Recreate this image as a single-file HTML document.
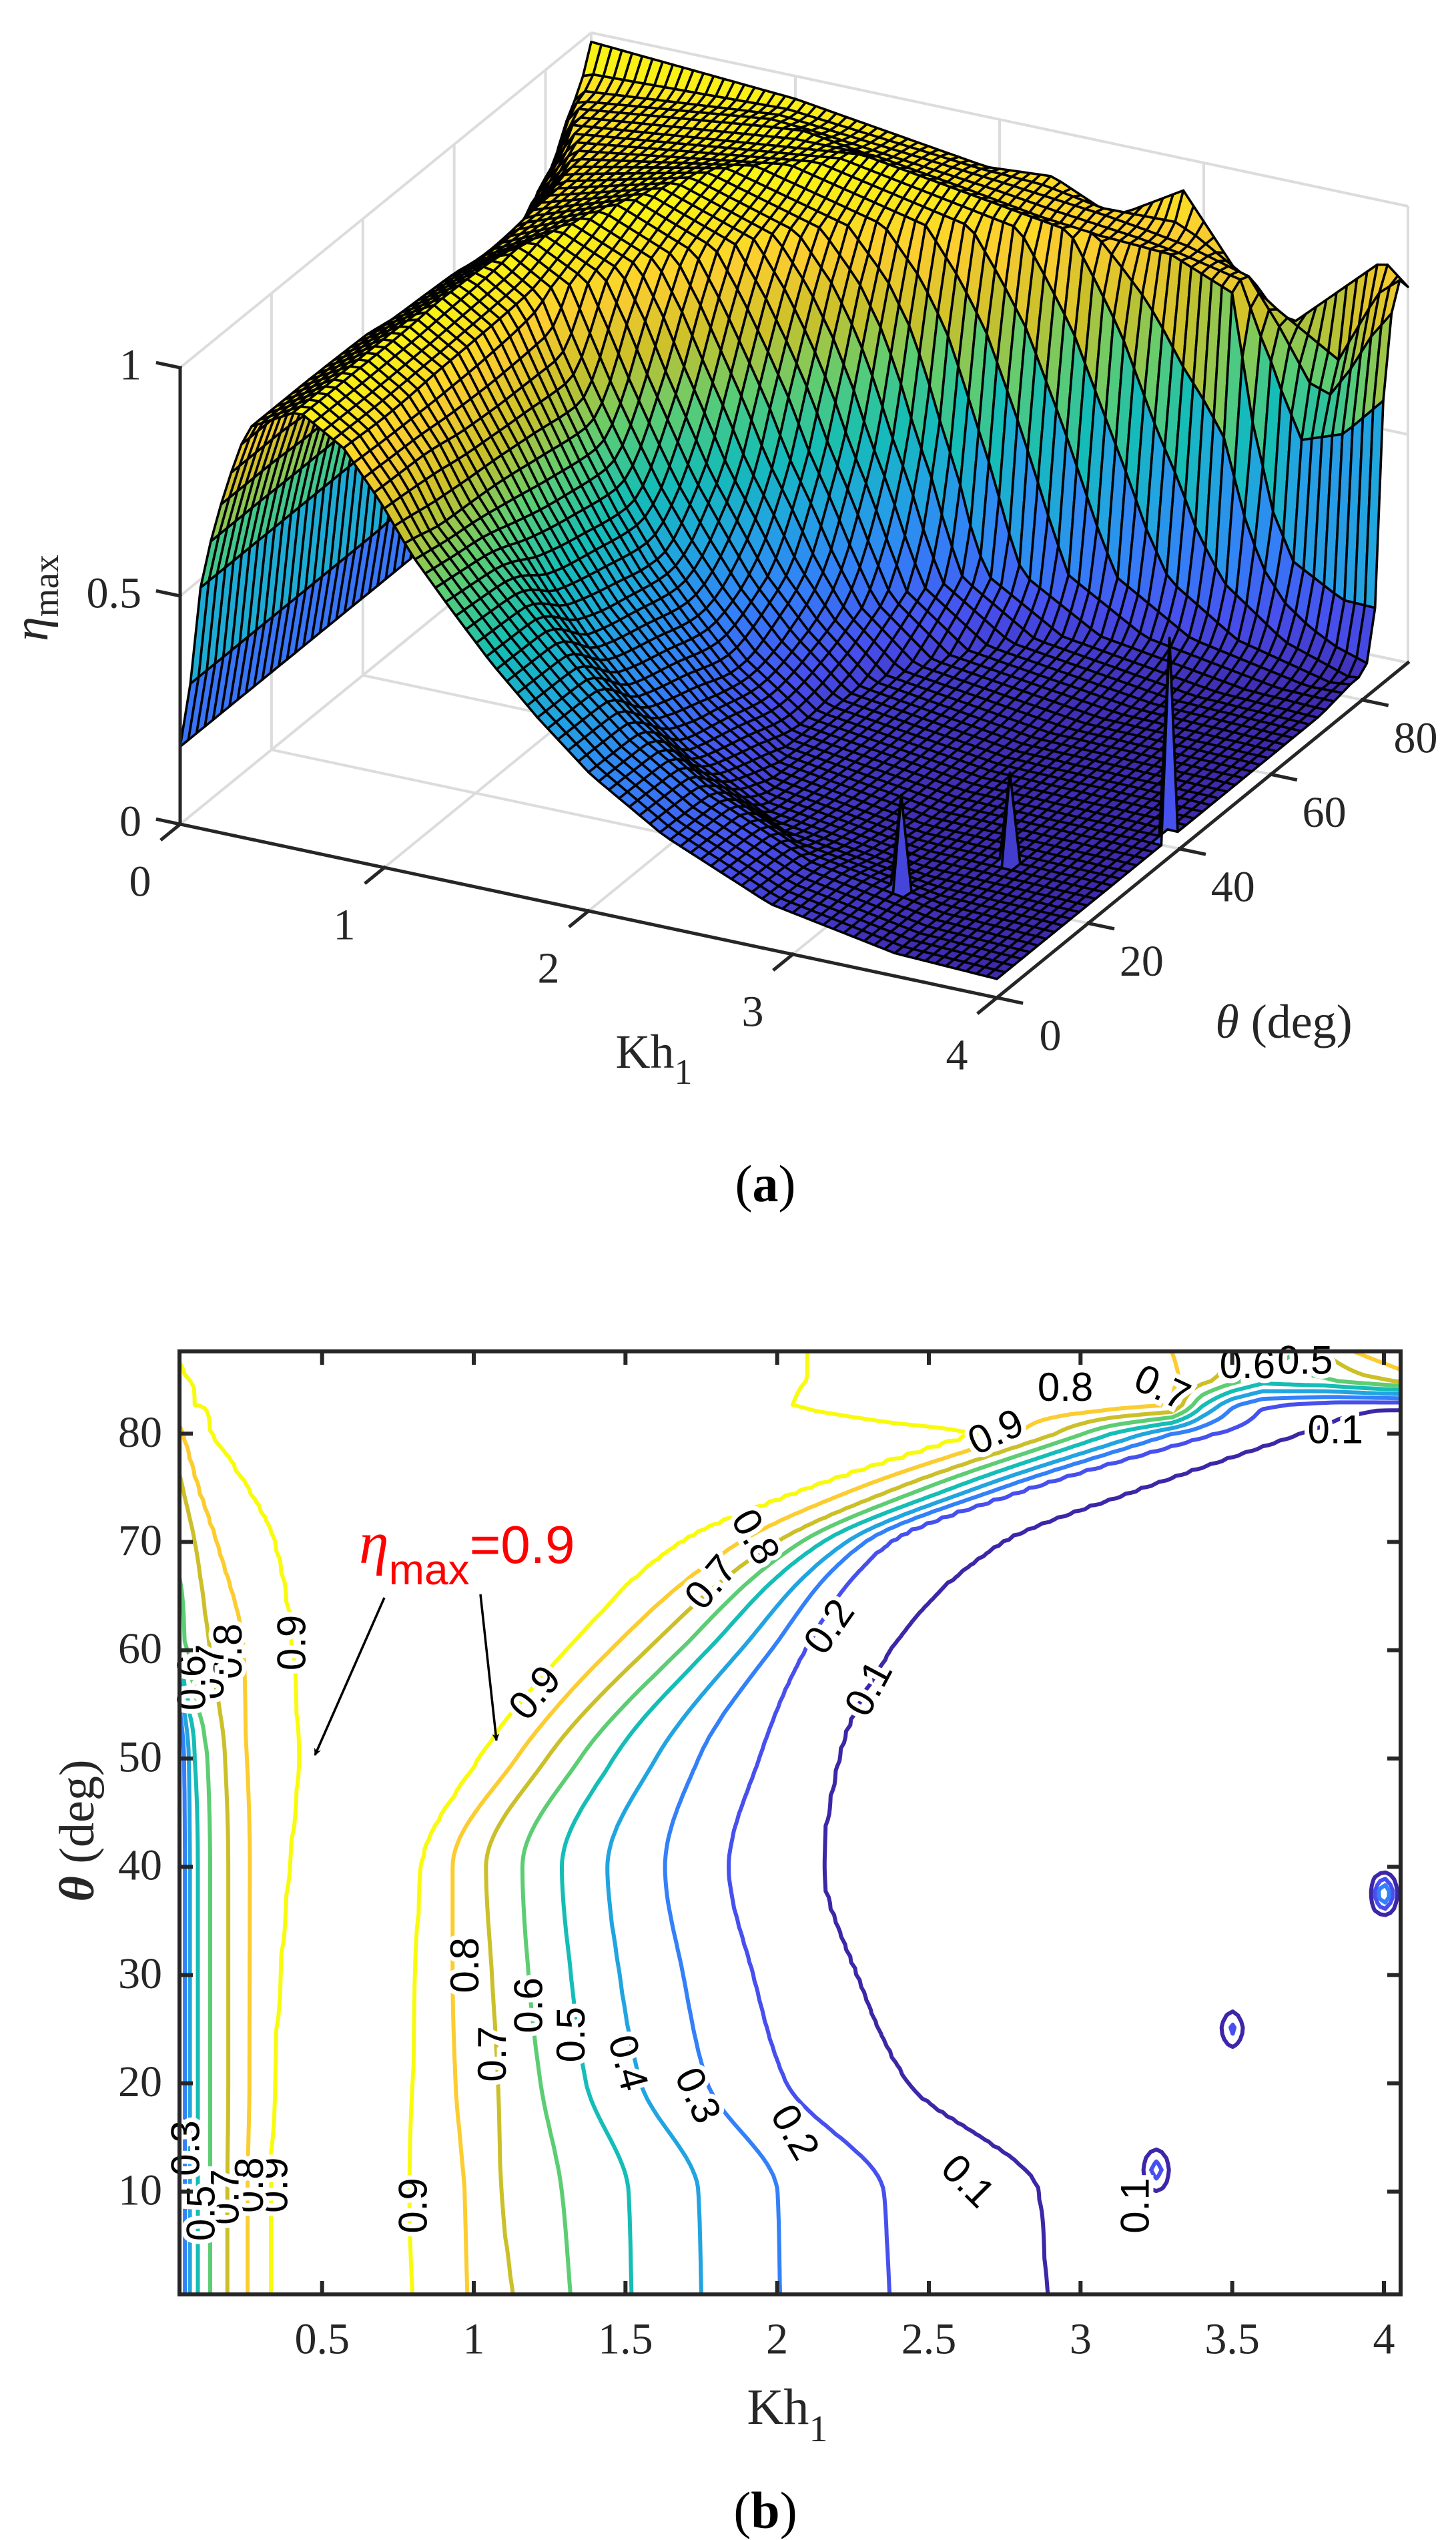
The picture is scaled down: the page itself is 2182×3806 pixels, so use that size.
<!DOCTYPE html>
<html><head><meta charset="utf-8"><style>
html,body{margin:0;padding:0;background:#fff;}
svg{display:block;}
</style></head>
<body>
<svg id="fig" width="2182" height="3806" xmlns="http://www.w3.org/2000/svg">
<rect x="0" y="0" width="2182" height="3806" fill="#fff"/>
<defs><clipPath id="clipB"><rect x="269" y="2025" width="1830" height="1413"/></clipPath>
<marker id="arrowhead" viewBox="0 0 20 20" refX="18" refY="10" markerWidth="11" markerHeight="11" orient="auto" markerUnits="userSpaceOnUse"><path d="M0,0 L20,10 L0,20 L6,10 Z" fill="#000"/></marker></defs>
<g id="gridA"></g>
<g id="surfA"></g>
<g id="axesA"></g>
<g id="contB" clip-path="url(#clipB)"></g>
<g id="labB"></g>
<g id="axesB"></g>

<text x="71" y="896" transform="rotate(-90 71 896)" text-anchor="middle" font-family="Liberation Serif, serif" font-size="74" fill="#262626"><tspan font-style="italic">η</tspan><tspan font-size="54" dy="16">max</tspan></text>
<text x="980" y="1600" text-anchor="middle" font-family="Liberation Serif, serif" font-size="72" fill="#262626">Kh<tspan font-size="54" dy="24">1</tspan></text>
<text x="1924" y="1555" text-anchor="middle" font-family="Liberation Serif, serif" font-size="72" fill="#262626"><tspan font-style="italic">θ</tspan> (deg)</text>
<text x="1147" y="1800" text-anchor="middle" font-family="Liberation Serif, serif" font-size="78" fill="#000">(<tspan font-weight="bold">a</tspan>)</text>

<text x="140" y="2743" transform="rotate(-90 140 2743)" text-anchor="middle" font-family="Liberation Serif, serif" font-size="74" fill="#262626"><tspan font-style="italic" font-weight="bold">θ</tspan> (deg)</text>
<text x="1180" y="3632" text-anchor="middle" font-family="Liberation Serif, serif" font-size="76" fill="#262626">Kh<tspan font-size="56" dy="26">1</tspan></text>
<text x="1147" y="3788" text-anchor="middle" font-family="Liberation Serif, serif" font-size="78" fill="#000">(<tspan font-weight="bold">b</tspan>)</text>

<text x="538" y="2342" fill="#ff0000" font-family="Liberation Sans, sans-serif"><tspan font-family="Liberation Serif, serif" font-style="italic" font-size="90">η</tspan><tspan font-size="64" dy="32">max</tspan><tspan font-size="80" dy="-32">=0.9</tspan></text>
<line x1="576" y1="2394" x2="472" y2="2630" stroke="#000" stroke-width="3.5" marker-end="url(#arrowhead)"/>
<line x1="720" y1="2389" x2="744" y2="2608" stroke="#000" stroke-width="3.5" marker-end="url(#arrowhead)"/>
</svg>
<script>
// ---------- data ----------
const lowRowTheta=[0,10,20,30,40,50,60,70,75,80];
const leftLevels=[0.2,0.3,0.4,0.5,0.6,0.7,0.8,0.9];
const etaAtKh0=[0.17,0.17,0.17,0.17,0.17,0.17,0.25,0.45,0.6,0.72];
const leftKh=[
[0.027,0.048,0.064,0.088,0.131,0.187,0.254,0.33],
[0.027,0.048,0.064,0.088,0.131,0.187,0.254,0.33],
[0.027,0.048,0.064,0.088,0.131,0.19,0.26,0.34],
[0.027,0.048,0.064,0.088,0.131,0.19,0.26,0.36],
[0.028,0.048,0.064,0.088,0.131,0.19,0.26,0.39],
[0.03,0.045,0.06,0.08,0.12,0.18,0.25,0.42],
[0,0.01,0.02,0.03,0.05,0.13,0.24,0.40],
[0,0,0,0.005,0.02,0.08,0.15,0.34],
[0,0,0,0,0,0.04,0.09,0.25],
[0,0,0,0,0,0,0.04,0.13]
];
const peakKh=[0.58,0.58,0.58,0.6,0.62,0.72,0.9,1.1,1.4,1.6];
const peakEta=[0.96,0.96,0.96,0.96,0.96,0.96,0.97,0.97,0.97,0.97];
const rightLevels=[0.9,0.8,0.7,0.6,0.5,0.4,0.3,0.2,0.1,0.05];
const rightKh=[
[0.8,0.98,1.13,1.32,1.52,1.75,2.01,2.37,2.89,3.5],
[0.79,0.97,1.09,1.29,1.51,1.74,2.0,2.35,2.86,3.5],
[0.80,0.94,1.08,1.22,1.37,1.55,1.77,2.03,2.43,3.2],
[0.81,0.93,1.06,1.18,1.32,1.48,1.69,1.92,2.26,3.0],
[0.83,0.93,1.04,1.16,1.29,1.44,1.63,1.84,2.15,3.0],
[1.02,1.14,1.24,1.35,1.46,1.6,1.74,1.94,2.2,3.0],
[1.31,1.45,1.57,1.68,1.77,1.88,1.98,2.09,2.37,3.2],
[1.69,1.88,2.0,2.08,2.15,2.23,2.29,2.37,2.74,3.5],
[2.12,2.27,2.4,2.49,2.58,2.66,2.74,2.83,3.2,3.8],
[2.67,2.8,2.92,3.01,3.1,3.21,3.3,3.44,3.72,4.0]
];
const tailEta=[0.04,0.04,0.04,0.04,0.04,0.04,0.04,0.04,0.05,0.07];
const highRowTheta=[82.5,85,87.6,90];
const highRowKh=[
[0,0.03,0.08,1.2,2.05,2.4,3.0,3.3,3.4,3.5,3.6,3.85,4.06],
[0,0.05,1.0,2.1,2.8,3.3,3.45,3.6,3.8,4.06],
[0,0.02,1.0,2.1,2.6,3.0,3.3,3.5,3.7,3.9,4.06],
[0,1,1.94,2.26,2.56,2.9,3.36,3.88,4.06]
];
const highRowEta=[
[0.8,0.85,0.9,0.96,0.9,0.87,0.86,0.8,0.5,0.3,0.2,0.12,0.1],
[0.86,0.9,0.95,0.9,0.86,0.82,0.7,0.55,0.6,0.75],
[0.9,0.91,0.94,0.9,0.88,0.85,0.8,0.7,0.6,0.8,0.9],
[0.98,0.95,0.89,0.9,0.84,0.93,0.66,0.87,0.8]
];
const spikeKh=[4.0,3.5,3.25];
const spikeTheta=[37.5,25,12];
const spikeEta=[0.48,0.24,0.27];
const contourLevels=[0.1,0.2,0.3,0.4,0.5,0.6,0.7,0.8,0.9];
const khTicksA=[0,1,2,3,4];
const thetaTicksA=[0,20,40,60,80];
const zTicksA=[0,0.5,1];
const zTickLabelsA=["0","0.5","1"];
const khTicksB=[0.5,1,1.5,2,2.5,3,3.5,4];
const khTickLabelsB=["0.5","1","1.5","2","2.5","3","3.5","4"];
const thetaTicksB=[10,20,30,40,50,60,70,80];
const labelKh=[1.2,1.78,2.17,2.3,2.72,2.95,3.27,3.55,3.74,3.84,0.40,0.19,0.97,1.06,1.18,1.32,1.51,1.74,2.06,2.63,0.8,3.18,0.34,0.26,1.93,0.13,0.07,0.18,0.1,0.05];
const labelTheta=[56.1,66.3,62.2,56.5,80.2,84.3,84.3,86.4,86.8,80.4,60.7,59.9,30.9,22.7,27.2,24.5,21.9,18.9,15.5,11.0,8.7,8.7,10.6,10.6,70.5,58,57,9.5,8,14];
const labelRot=[-50,-50,-55,-62,-25,0,25,0,0,0,-90,-90,-90,-90,-90,-90,75,65,60,45,-90,-90,-90,-90,60,-90,-90,-90,-90,-90];
const labelText=["0.9","0.7","0.2","0.1","0.9","0.8","0.7","0.6","0.5","0.1","0.9","0.8","0.8","0.7","0.6","0.5","0.4","0.3","0.2","0.1","0.9","0.1","0.9","0.8","0.8","0.7","0.6","0.7","0.5","0.3"];

// ---------- helpers ----------
const NS="http://www.w3.org/2000/svg";
function mk(tag,attrs,parent){const e=document.createElementNS(NS,tag);for(const k in attrs)e.setAttribute(k,attrs[k]);parent.appendChild(e);return e;}
function pchip(xs,ys,x){const n=xs.length;if(x<=xs[0])return ys[0];if(x>=xs[n-1])return ys[n-1];
 let k=0;while(x>xs[k+1])k++;
 const d=[];for(let i=0;i<n-1;i++)d.push((ys[i+1]-ys[i])/(xs[i+1]-xs[i]));
 function m(i){if(i===0)return d[0];if(i===n-1)return d[n-2];if(d[i-1]*d[i]<=0)return 0;const w1=2*(xs[i+1]-xs[i])+(xs[i]-xs[i-1]),w2=(xs[i+1]-xs[i])+2*(xs[i]-xs[i-1]);return (w1+w2)/(w1/d[i-1]+w2/d[i]);}
 const h=xs[k+1]-xs[k],t=(x-xs[k])/h,t2=t*t,t3=t2*t;
 return (2*t3-3*t2+1)*ys[k]+(t3-2*t2+t)*h*m(k)+(-2*t3+3*t2)*ys[k+1]+(t3-t2)*h*m(k+1);}
function col(arr,j){return arr.map(r=>r[j]);}
function piece(xs,ys,kh){if(kh<=xs[0])return ys[0];for(let j=0;j<xs.length-1;j++){if(kh<=xs[j+1]){const d=xs[j+1]-xs[j];const t=d>0?(kh-xs[j])/d:1;return ys[j]+t*(ys[j+1]-ys[j]);}}return ys[ys.length-1];}
const rowCache=new Map();
function lowRow(th){const key=th.toFixed(4);if(rowCache.has(key))return rowCache.get(key);
 const e0=pchip(lowRowTheta,etaAtKh0,th);
 const xs=[0],ys=[e0];let last=0;
 for(let j=0;j<leftLevels.length;j++){const L=leftLevels[j];if(L<=e0+1e-6)continue;let p=pchip(lowRowTheta,col(leftKh,j),th);if(p<=last)p=last+1e-4;xs.push(p);ys.push(L);last=p;}
 let pk=pchip(lowRowTheta,peakKh,th);if(pk<=last)pk=last+1e-3;xs.push(pk);ys.push(pchip(lowRowTheta,peakEta,th));last=pk;
 for(let j=0;j<rightLevels.length;j++){let p=pchip(lowRowTheta,col(rightKh,j),th);if(p<=last)p=last+1e-4;xs.push(p);ys.push(rightLevels[j]);last=p;}
 xs.push(Math.max(4.06,last+1e-3));ys.push(pchip(lowRowTheta,tailEta,th));
 const r={xs,ys};rowCache.set(key,r);return r;}
function baseEta(kh,th){
 if(th<=80){const r=lowRow(th);return piece(r.xs,r.ys,kh);}
 const r80=lowRow(80);const ths=[80].concat(highRowTheta);
 const vals=[piece(r80.xs,r80.ys,kh)];for(let i=0;i<highRowTheta.length;i++)vals.push(piece(highRowKh[i],highRowEta[i],kh));
 for(let i=0;i<ths.length-1;i++){if(th<=ths[i+1]){const t=(th-ths[i])/(ths[i+1]-ths[i]);return vals[i]*(1-t)+vals[i+1]*t;}}
 return vals[vals.length-1];}
function etaAt(kh,th,dk,dt,snapK,snapT){let v=baseEta(kh,th);for(let s=0;s<spikeKh.length;s++){let sk=spikeKh[s],st=spikeTheta[s];if(snapK){sk=Math.round(sk/snapK)*snapK;st=Math.round(st/snapT)*snapT;}const w=Math.max(0,1-Math.abs(kh-sk)/dk)*Math.max(0,1-Math.abs(th-st)/dt);v+=(spikeEta[s]-v)*w;}return v;}
const PAR=[[0,[62,38,168]],[0.125,[71,80,238]],[0.25,[51,128,248]],[0.375,[33,164,224]],[0.5,[20,189,182]],[0.625,[92,205,115]],[0.75,[203,192,41]],[0.875,[252,205,48]],[1,[249,251,14]]];
function parula(t){t=Math.max(0,Math.min(1,t));for(let i=0;i<PAR.length-1;i++){if(t<=PAR[i+1][0]){const u=(t-PAR[i][0])/(PAR[i+1][0]-PAR[i][0]);const a=PAR[i][1],b=PAR[i+1][1];return "rgb("+a.map((c,k)=>Math.round(c+u*(b[k]-c))).join(",")+")";}}return "rgb(249,251,14)";}
const CMIN=0.03,CMAX=0.98;

// ---------- plot (a): 3D projection ----------
function P(kh,th,z){return [270+306*kh+616*th/90, 1235+65*kh-502*th/90-684*z];}
const gA=document.getElementById('gridA');
const gridLines=[];
for(const k of khTicksA){gridLines.push([P(k,0,0),P(k,90,0)]);gridLines.push([P(k,90,0),P(k,90,1)]);}
for(const t of thetaTicksA.concat([90])){gridLines.push([P(0,t,0),P(4,t,0)]);gridLines.push([P(0,t,0),P(0,t,1)]);}
for(const z of zTicksA){gridLines.push([P(0,0,z),P(0,90,z)]);gridLines.push([P(0,90,z),P(4,90,z)]);}
for(const L of gridLines){const e=mk('line',{x1:L[0][0],y1:L[0][1],x2:L[1][0],y2:L[1][1],stroke:'#dcdcdc','stroke-width':4},gA);

}

const sA=document.getElementById('surfA');
const NK=81,NT=51,dK=4/(NK-1),dT=90/(NT-1);
const Z=[];
for(let j=0;j<NT;j++){Z.push([]);for(let i=0;i<NK;i++){Z[j].push(etaAt(i*dK,j*dT,dK,dT,dK,dT));}}
const faces=[];
for(let j=0;j<NT-1;j++)for(let i=0;i<NK-1;i++){
 const kh=(i+0.5)*dK,th=(j+0.5)*dT;
 const zc=(Z[j][i]+Z[j][i+1]+Z[j+1][i]+Z[j+1][i+1])/4;
 faces.push({i,j,depth:65*kh-502*th/90,z:zc});}
faces.sort((a,b)=>a.depth-b.depth);
for(const f of faces){const i=f.i,j=f.j;
 const pts=[P(i*dK,j*dT,Z[j][i]),P((i+1)*dK,j*dT,Z[j][i+1]),P((i+1)*dK,(j+1)*dT,Z[j+1][i+1]),P(i*dK,(j+1)*dT,Z[j+1][i])];
 const e=mk('polygon',{points:pts.map(p=>p[0].toFixed(1)+","+p[1].toFixed(1)).join(" "),fill:parula((f.z-CMIN)/(CMAX-CMIN)),stroke:'#000','stroke-width':3.6,'stroke-linejoin':'round'},sA);
 
 }

const aA=document.getElementById('axesA');
function axLine(p,q,name){const e=mk('line',{x1:p[0],y1:p[1],x2:q[0],y2:q[1],stroke:'#262626','stroke-width':5,'stroke-linecap':'square'},aA);
 
 }
axLine(P(0,0,0),P(0,0,1),'z-axis-line');
axLine(P(0,0,0),P(4,0,0),'kh-axis-line');
axLine(P(4,0,0),P(4,90,0),'theta-axis-line');
function txt(x,y,s,size,anchor,parent,name,family){const e=mk('text',{x:x,y:y,'text-anchor':anchor,'dominant-baseline':'central','font-family':family||'Liberation Serif, serif','font-size':size,fill:'#262626'},parent);e.textContent=s;
 
 return e;}
for(let k=0;k<zTicksA.length;k++){const p=P(0,0,zTicksA[k]),q=P(-0.11,0,zTicksA[k]);axLine(p,q,'z-tick');txt(212,p[1]-4,zTickLabelsA[k],66,'end',aA,'z-tick-label');}
for(const k of khTicksA){const p=P(k,0,0),q=P(k,-4,0);axLine(p,q,'kh-tick');txt(p[0]-60,p[1]+86,String(k),66,'middle',aA,'kh-tick-label');}
for(const t of thetaTicksA){const p=P(4,t,0),q=P(4.12,t,0);axLine(p,q,'theta-tick');txt(p[0]+80,p[1]+57,String(t),66,'middle',aA,'theta-tick-label');}

// ---------- plot (b): contour ----------
const BX0=269,BX1=2099,BY0=2025,BY1=3438,KMIN=0.03,KMAX=4.055,TMIN=0.5,TMAX=87.6;
function X(kh){return BX0+(kh-KMIN)/(KMAX-KMIN)*(BX1-BX0);}
function Y(th){return BY1-(th-TMIN)/(TMAX-TMIN)*(BY1-BY0);}
const cB=document.getElementById('contB');
const GK=241,GT=160;
const gk=[],gt=[],V=[];
for(let i=0;i<GK;i++)gk.push(KMIN+(KMAX-KMIN)*i/(GK-1));
for(let j=0;j<GT;j++)gt.push(TMIN+(TMAX-TMIN)*j/(GT-1));
for(let j=0;j<GT;j++){V.push([]);for(let i=0;i<GK;i++)V[j].push(etaAt(gk[i],gt[j],0.05,2.3,0,0));}
const LMIN=contourLevels[0],LMAX=contourLevels[contourLevels.length-1];
for(const L of contourLevels){let d="";
 for(let j=0;j<GT-1;j++)for(let i=0;i<GK-1;i++){
  const c=[[gk[i],gt[j],V[j][i]],[gk[i+1],gt[j],V[j][i+1]],[gk[i+1],gt[j+1],V[j+1][i+1]],[gk[i],gt[j+1],V[j+1][i]]];
  const pts=[];
  for(let e=0;e<4;e++){const a=c[e],b=c[(e+1)%4];if((a[2]>=L)!==(b[2]>=L)){const t=(L-a[2])/(b[2]-a[2]);pts.push([X(a[0]+t*(b[0]-a[0])),Y(a[1]+t*(b[1]-a[1]))]);}}
  for(let m=0;m+1<pts.length;m+=2)d+="M"+pts[m][0].toFixed(1)+" "+pts[m][1].toFixed(1)+"L"+pts[m+1][0].toFixed(1)+" "+pts[m+1][1].toFixed(1);
 }
 const e=mk('path',{d:d,fill:'none',stroke:parula((L-LMIN)/(LMAX-LMIN)),'stroke-width':6,'stroke-linecap':'round','stroke-linejoin':'round'},cB);
 
 }
const lB=document.getElementById('labB');
for(let n=0;n<labelText.length;n++){const x=X(labelKh[n]),y=Y(labelTheta[n]);
 const e=mk('text',{x:x,y:y,'text-anchor':'middle','dominant-baseline':'central','font-family':'Liberation Sans, sans-serif','font-size':60,fill:'#000',stroke:'#fff','stroke-width':14,'paint-order':'stroke',transform:'rotate('+labelRot[n]+' '+x+' '+y+')'},lB);
 e.textContent=labelText[n];
 
 }
const xB=document.getElementById('axesB');
const box=mk('rect',{x:BX0,y:BY0,width:BX1-BX0,height:BY1-BY0,fill:'none',stroke:'#262626','stroke-width':6},xB);


function bLine(x1,y1,x2,y2,name){const e=mk('line',{x1,y1,x2,y2,stroke:'#262626','stroke-width':6},xB);
 
 }
for(let k=0;k<khTicksB.length;k++){const x=X(khTicksB[k]);bLine(x,BY1,x,BY1-20,'x-tick');bLine(x,BY0,x,BY0+20,'x-tick-top');
 txt(x,3505,khTickLabelsB[k],66,'middle',xB,'x-tick-label');}
for(const t of thetaTicksB){const y=Y(t);bLine(BX0,y,BX0+20,y,'y-tick');bLine(BX1,y,BX1-20,y,'y-tick-right');
 txt(243,y-2,String(t),66,'end',xB,'y-tick-label');}
</script>
</body></html>
